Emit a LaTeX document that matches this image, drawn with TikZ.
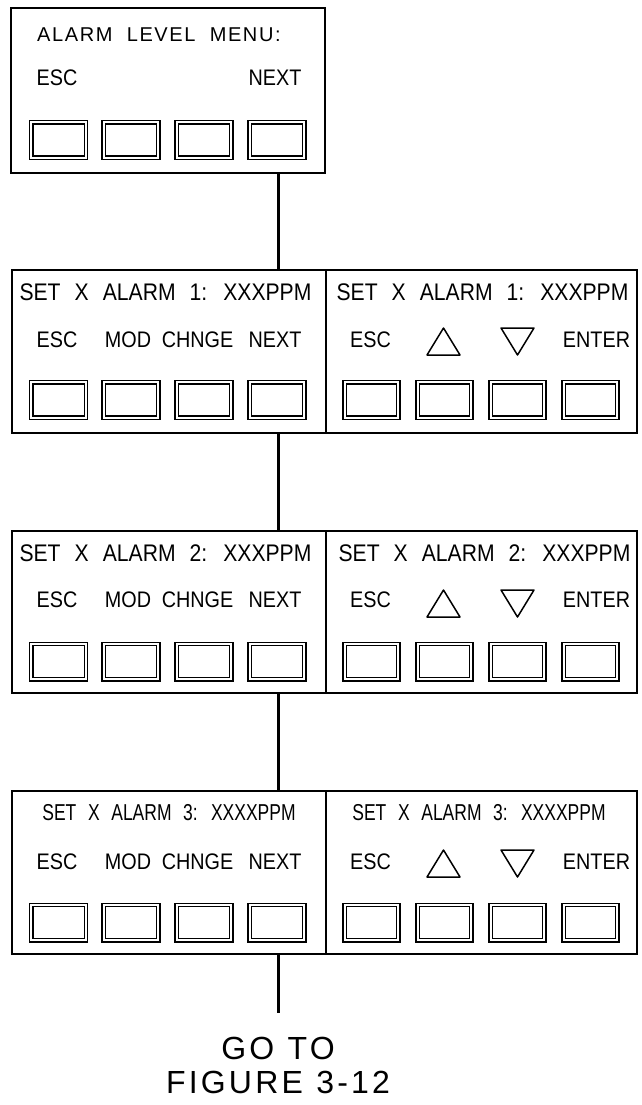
\documentclass[tikz,border=0pt]{standalone}
\usepackage{fontspec}
\setmainfont{Liberation Sans}
\newfontfamily\cadA[FakeStretch=0.88,WordSpace=2.4]{Liberation Sans}
\newfontfamily\cadB[FakeStretch=0.76,WordSpace=2.4]{Liberation Sans}
\newfontfamily\cadC[LetterSpace=8,WordSpace=2]{Liberation Sans}
\newfontfamily\cadD[LetterSpace=10,WordSpace=1.1]{Liberation Sans}
\begin{document}
\begin{tikzpicture}[x=1pt,y=-1pt,
  frame/.style={draw,line width=1.4pt,inner sep=0pt,outer sep=0pt},
  btn/.style={draw,double,line width=1.2pt,double distance=2.2pt,inner sep=0pt,outer sep=0pt,minimum height=35.4pt},
  conn/.style={line width=3pt},
  tri/.style={line width=1.5pt,line join=round},
  lbl/.style={inner sep=0pt,font=\cadA\fontsize{22.5}{22.5}\selectfont},
  ttl/.style={inner sep=0pt,font=\cadA\fontsize{24}{24}\selectfont},
  ttlb/.style={inner sep=0pt,font=\cadB\fontsize{23}{23}\selectfont},
  menut/.style={inner sep=0pt,font=\cadC\fontsize{20}{20}\selectfont},
  gotot/.style={inner sep=0pt,font=\cadD\fontsize{32}{32}\selectfont}]
\useasboundingbox[fill=white] (0,0) rectangle (642,1105);

% ---------- top menu box ----------
\node[frame,minimum width=314pt,minimum height=165pt] (menu) at (168,90.5) {};
\node[menut,anchor=west] (menutitle) at (37,35) {ALARM LEVEL MENU:};
\node[lbl] (menuesc) at (57,78) {ESC};
\node[lbl] (menunext) at (275,78) {NEXT};
\foreach \i/\cx in {1/58.5,2/131,3/204,4/277}
  \node[btn,minimum width=54.6pt] (m\i) at (\cx,140) {};

% ---------- rows ----------
\foreach \r/\cy/\h/\ty/\ly/\tt/\tb/\by in
  {1/351.5/163/292/340/328/355/400,
   2/612/162/553/600/590/617/661.5,
   3/872.5/163/813/862/850/877/922.5}{
  \node[frame,minimum width=314pt,minimum height=\h pt] (r\r l) at (169,\cy) {};
  \node[frame,minimum width=311pt,minimum height=\h pt] (r\r r) at (481.5,\cy) {};
  \node[lbl] (r\r lesc) at (57,\ly) {ESC};
  \node[lbl] (r\r lmod) at (128,\ly) {MOD};
  \node[lbl] (r\r lchg) at (197.5,\ly) {CHNGE};
  \node[lbl] (r\r lnext) at (275,\ly) {NEXT};
  \node[lbl] (r\r resc) at (370.5,\ly) {ESC};
  \node[lbl] (r\r rent) at (596.5,\ly) {ENTER};
  \draw[tri] (427,\tb) -- (443.5,\tt) -- (460,\tb) -- cycle;
  \draw[tri] (501,\tt) -- (517.5,\tb) -- (534,\tt) -- cycle;
  \foreach \i/\cx in {1/58.5,2/131,3/204,4/277}
    \node[btn,minimum width=54.6pt] (b\r l\i) at (\cx,\by) {};
  \foreach \i/\cx in {1/371.5,2/444.5,3/517.5,4/590.5}
    \node[btn,minimum width=53.6pt] (b\r r\i) at (\cx,\by) {};
}
\node[ttl] (r1lt) at (165.5,292) {SET X ALARM 1: XXXPPM};
\node[ttl] (r1rt) at (482.5,292) {SET X ALARM 1: XXXPPM};
\node[ttl] (r2lt) at (165.5,553) {SET X ALARM 2: XXXPPM};
\node[ttl] (r2rt) at (484.5,553) {SET X ALARM 2: XXXPPM};
\node[ttlb] (r3lt) at (169,813) {SET X ALARM 3: XXXXPPM};
\node[ttlb] (r3rt) at (479,813) {SET X ALARM 3: XXXXPPM};

% ---------- connectors ----------
\coordinate (cx) at (278,0);
\coordinate (cend) at (278,1013);
\draw[conn] (menu.south -| cx) -- (r1l.north -| cx);
\draw[conn] (r1l.south -| cx) -- (r2l.north -| cx);
\draw[conn] (r2l.south -| cx) -- (r3l.north -| cx);
\draw[conn] (r3l.south -| cx) -- (cend);

\node[gotot] (goto) at (278,1048) {GO TO};
\node[gotot] (fig) at (278,1082) {FIGURE 3-12};
\end{tikzpicture}
\end{document}
